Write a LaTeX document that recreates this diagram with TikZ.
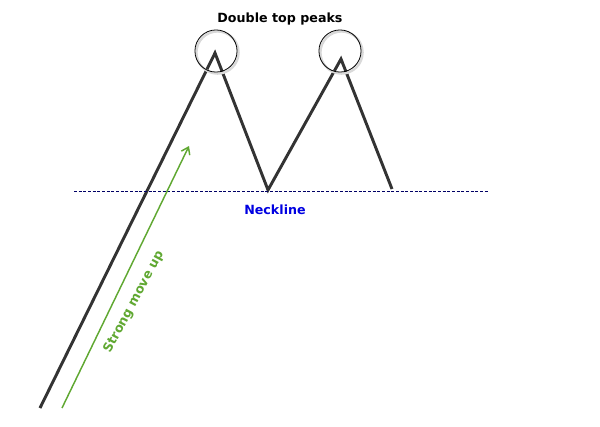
\documentclass[tikz,border=0pt]{standalone}
\usepackage{fontspec}
\setmainfont{DejaVu Sans}
\usepackage[dvipsnames]{xcolor}
\usepackage{tikz}
\usetikzlibrary{arrows.meta}
\definecolor{priceGray}{RGB}{51,51,51}
\definecolor{moveGreen}{RGB}{96,168,50}
\definecolor{neckBlue}{RGB}{0,0,225}

\begin{document}
\begin{tikzpicture}[x=0.75pt,y=-0.75pt,
  tag/.style={font=\bfseries\fontsize{9.5}{11}\selectfont}]
 \useasboundingbox (0,0) rectangle (600,426);
 % price path
 \coordinate (start) at (40,408);
 \coordinate (peakA) at (215,53);
 \coordinate (trough) at (268,190);
 \coordinate (peakB) at (341,59);
 \coordinate (finish) at (392,189);
 \draw[priceGray,line width=2.2pt] (start)--(peakA)--(trough)--(peakB)--(finish);
 % neckline
 \coordinate (neckL) at (74,191);
 \coordinate (neckR) at (488,191);
 \draw[neckBlue!45!black,line width=0.6pt,dash pattern=on 2.2pt off 1.3pt] (neckL)--(neckR);
 \node[tag,neckBlue] (neck) at (275,210) {Neckline};
 % peaks
 \foreach \cx/\nm in {216/ringA,340/ringB}{
  \draw[black!15,line width=1.8pt] (\cx+1.5,52.5) circle[radius=15.8pt];
  \draw[black,line width=0.6pt] (\cx,51) coordinate (\nm) circle[radius=15.8pt];
 }
 \node[tag] (peaks) at (280,19) {Double top peaks};
 % strong move
 \coordinate (moveFrom) at (62,408);
 \coordinate (moveTo) at (189,146);
 \draw[moveGreen,line width=1.1pt,-{Straight Barb[length=5pt,width=7pt]}] (moveFrom)--(moveTo);
 \node[tag,moveGreen,rotate=62] (move) at (134,302) {Strong move up};
\end{tikzpicture}
\end{document}
